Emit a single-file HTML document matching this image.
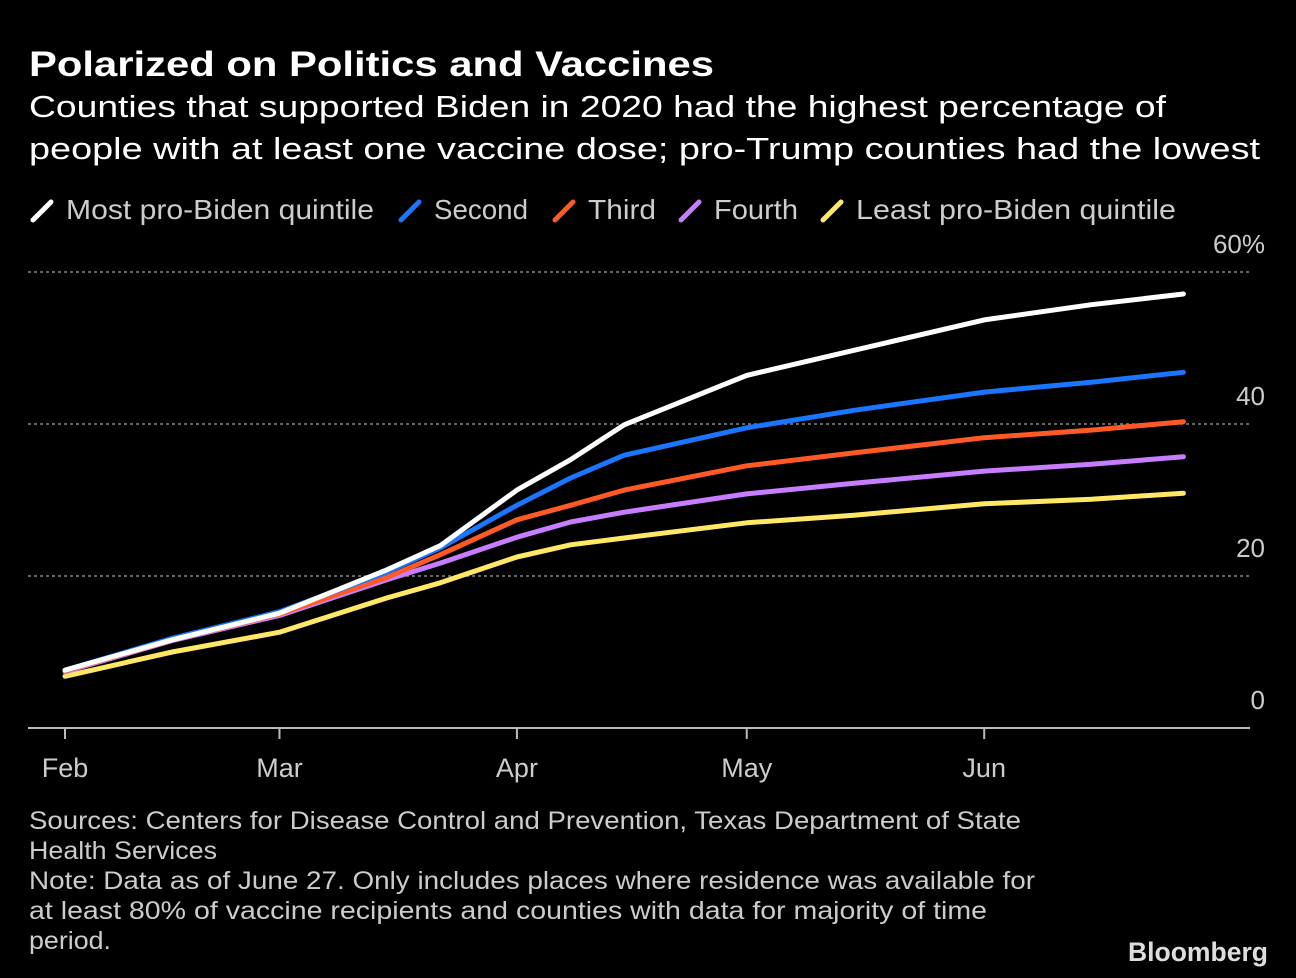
<!DOCTYPE html>
<html><head><meta charset="utf-8"><style>
body{margin:0;background:#000;}
svg{display:block;font-family:"Liberation Sans","DejaVu Sans",sans-serif;}
</style></head><body>
<svg width="1296" height="978" viewBox="0 0 1296 978">
<rect width="1296" height="978" fill="#000"/>
<text x="29" y="76" fill="#fff" font-size="35" font-weight="bold" textLength="685" lengthAdjust="spacingAndGlyphs">Polarized on Politics and Vaccines</text>
<text x="29" y="117" fill="#fff" font-size="31" textLength="1137" lengthAdjust="spacingAndGlyphs">Counties that supported Biden in 2020 had the highest percentage of</text>
<text x="29" y="159" fill="#fff" font-size="31" textLength="1231" lengthAdjust="spacingAndGlyphs">people with at least one vaccine dose; pro-Trump counties had the lowest</text>
<g id="legend"></g>
<g id="grid"></g>
<g id="series"></g>
<g id="xaxis"></g>
<text x="29" y="829" fill="#ccc" font-size="25" textLength="992" lengthAdjust="spacingAndGlyphs">Sources: Centers for Disease Control and Prevention, Texas Department of State</text>
<text x="29" y="859" fill="#ccc" font-size="25" textLength="188" lengthAdjust="spacingAndGlyphs">Health Services</text>
<text x="29" y="889" fill="#ccc" font-size="25" textLength="1006" lengthAdjust="spacingAndGlyphs">Note: Data as of June 27. Only includes places where residence was available for</text>
<text x="29" y="919" fill="#ccc" font-size="25" textLength="958" lengthAdjust="spacingAndGlyphs">at least 80% of vaccine recipients and counties with data for majority of time</text>
<text x="29" y="949" fill="#ccc" font-size="25" textLength="82" lengthAdjust="spacingAndGlyphs">period.</text>
<text x="1268" y="961" fill="#ddd" font-size="27" font-weight="bold" text-anchor="end" textLength="140" lengthAdjust="spacingAndGlyphs">Bloomberg</text>
</svg>
<script>
const days=[0,14,28,42,49,59,66,73,89,103,120,134,146];
const seriesNames=["Most pro-Biden quintile","Second","Third","Fourth","Least pro-Biden quintile"];
const seriesColors=["#ffffff","#1a75ff","#ff5a26","#c77dff","#ffe866"];
const mostBiden=[7.6,11.6,15.1,20.8,24,31.3,35.3,39.9,46.4,49.7,53.7,55.7,57.1];
const second=[7.6,11.8,15.3,20.5,23.7,29.3,32.9,35.9,39.5,41.8,44.2,45.5,46.8];
const third=[7.5,11.6,15,19.8,22.8,27.4,29.3,31.3,34.5,36.2,38.2,39.2,40.3];
const fourth=[7.4,11.5,14.8,19.5,21.7,25.1,27.1,28.4,30.8,32.2,33.8,34.7,35.7];
const leastBiden=[6.8,10,12.6,17.1,19.1,22.5,24.1,25,27,28,29.5,30.1,30.9];
const yTicks=[0,20,40,60];
const monthLabels=["Feb","Mar","Apr","May","Jun"];
const monthDays=[0,28,59,89,120];
const NS="http://www.w3.org/2000/svg";
const xS=d=>65+d*7.66;
const yS=v=>728-v*7.6;
function mk(t,a,p){const e=document.createElementNS(NS,t);for(const k in a)e.setAttribute(k,a[k]);p.appendChild(e);return e;}
const grid=document.getElementById('grid');
yTicks.forEach(v=>{
 if(v>0){const l=mk('line',{x1:28,x2:1250,y1:yS(v),y2:yS(v),stroke:'#888','stroke-width':1.5,'stroke-dasharray':'3,3'},grid);
 
 }
 const t=mk('text',{x:1265,y:yS(v)-19,fill:'#ccc','font-size':26,'text-anchor':'end'},grid);
 t.textContent=v===60?'60%':String(v);
 
 
});
const xa=document.getElementById('xaxis');
const base=mk('line',{x1:28,x2:1250,y1:728,y2:728,stroke:'#bbb','stroke-width':2},xa);


monthLabels.forEach((m,i)=>{
 const x=xS(monthDays[i]);
 const tk=mk('line',{x1:x,x2:x,y1:728,y2:739,stroke:'#bbb','stroke-width':2},xa);
 
 
 const t=mk('text',{x:x,y:777,fill:'#ccc','font-size':27,'text-anchor':'middle'},xa);
 t.textContent=m;
 
 
});
const all=[mostBiden,second,third,fourth,leastBiden];
const sg=document.getElementById('series');
for(let s=all.length-1;s>=0;s--){
 const pts=days.map((d,i)=>xS(d).toFixed(1)+','+yS(all[s][i]).toFixed(1)).join(' ');
 const pl=mk('polyline',{points:pts,fill:'none',stroke:seriesColors[s],'stroke-width':5,'stroke-linejoin':'round','stroke-linecap':'round'},sg);
 
 
}
const lg=document.getElementById('legend');
const legX=[30,398,552,678,820];
const legW=[308,94,68,84,320];
seriesNames.forEach((n,i)=>{
 const x=legX[i];
 const ic=mk('line',{x1:x+3,y1:220,x2:x+21,y2:202,stroke:seriesColors[i],'stroke-width':5,'stroke-linecap':'round'},lg);
 
 
 const t=mk('text',{x:x+36,y:219,fill:'#ccc','font-size':28,textLength:legW[i],lengthAdjust:'spacingAndGlyphs'},lg);
 t.textContent=n;
 
 
});
</script>
</body></html>
